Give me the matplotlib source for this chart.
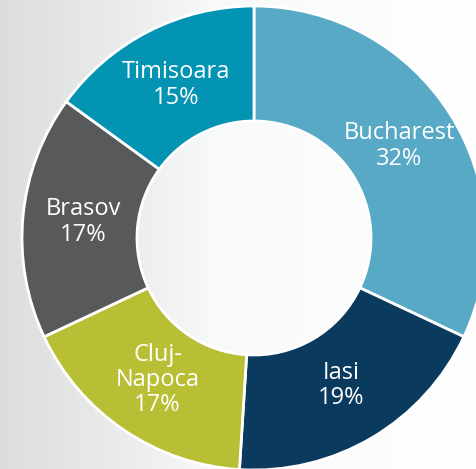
import numpy as np
import matplotlib
matplotlib.use("Agg")
import matplotlib.pyplot as plt
from matplotlib.colors import LinearSegmentedColormap

# Dados
cidades = ["Bucharest", "Iasi", "Cluj-\nNapoca", "Brasov", "Timisoara"]
percentuais = [32, 19, 17, 17, 15]
cores = ["#57a9c6", "#0b3a5f", "#b8bf35", "#58595b", "#0394b4"]

rotulos = [f"{c}\n{p}%" for c, p in zip(cidades, percentuais)]

fig = plt.figure(figsize=(4.76, 4.69), dpi=100)

# fundo em gradiente (cinza à esquerda, branco à direita)
fundo = fig.add_axes([0, 0, 1, 1])
fundo.axis("off")
cmap_fundo = LinearSegmentedColormap.from_list(
    "fundo", [(0, "#dcdddd"), (0.25, "#eaebeb"), (0.45, "#f8f9f9"), (1, "#ffffff")])
fundo.imshow(np.linspace(0, 1, 256)[None, :], aspect="auto", cmap=cmap_fundo,
             extent=[0, 1, 0, 1])
fundo.set_xlim(0, 1)
fundo.set_ylim(0, 1)

ax = fig.add_axes([0, 0, 1, 1])
ax.axis("off")
ax.patch.set_alpha(0)

raio = 232
centro = (254, 469 - 238)
fatias, textos = ax.pie(
    percentuais, labels=rotulos, colors=cores, startangle=90, counterclock=False,
    radius=raio, center=centro, labeldistance=0.74,
    wedgeprops=dict(width=115, edgecolor="white", linewidth=2),
    textprops=dict(color="white", fontsize=17, family="Open Sans",
                   ha="center", va="center", linespacing=1.08))

ax.set_xlim(0, 476)
ax.set_ylim(0, 469)
ax.set_aspect("equal")

fig.savefig("out.png", dpi=100)
